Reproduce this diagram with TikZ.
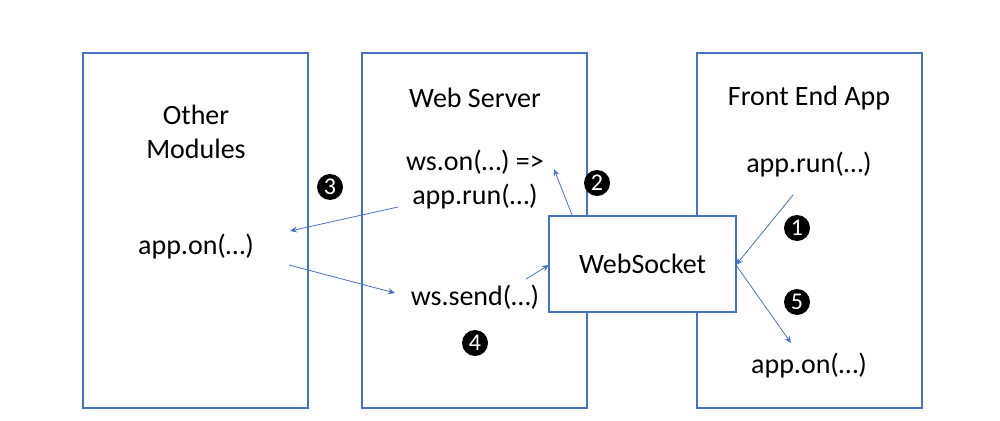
\documentclass[tikz,border=0pt]{standalone}
\usepackage{fontspec}
\setmainfont{Carlito}
\usetikzlibrary{arrows.meta}
\definecolor{bl}{HTML}{4472C4}
\begin{document}
\begin{tikzpicture}[x=1pt,y=-1pt,
  box/.style={draw=bl,line width=1.3pt,minimum width=#1,inner sep=0pt},
  lbl/.style={font=\fontsize{28}{34}\selectfont,align=center},
  num/.style={circle,fill=black,text=white,minimum size=26pt,inner sep=0pt,font=\fontsize{24}{24}\selectfont},
  arr/.style={draw=bl,line width=0.8pt,-{Stealth[length=7pt,width=6pt]}}]
\useasboundingbox (0,0) rectangle (1000,420);
\node[box=225pt,minimum height=355pt] (om) at (195.5,230.5) {};
\node[box=225pt,minimum height=355pt] (ws) at (474.5,230.5) {};
\node[box=225pt,minimum height=355pt] (fe) at (809.5,230.5) {};
\node[box=187pt,minimum height=96pt,fill=white,lbl] (sock) at (642.5,264) {WebSocket};
\node[lbl] (t1) at (196,132) {Other\\Modules};
\node[lbl] (t2) at (475,98) {Web Server};
\node[lbl] (t3) at (809,98) {Front End App};
\node[lbl] (a1) at (475,180) {ws.on(…) =>\\app.run(…)};
\node[lbl] (a2) at (196,247) {app.on(…)};
\node[lbl] (a3) at (475,297) {ws.send(…)};
\node[lbl] (a4) at (809,165) {app.run(…)};
\node[lbl] (a5) at (809,366) {app.on(…)};
\node[num] (n3) at (330,187) {3};
\node[num] (n2) at (597,183) {2};
\node[num] (n1) at (797,228) {1};
\node[num] (n5) at (797,302) {5};
\node[num] (n4) at (475,343) {4};
\coordinate (p1s) at (793,195);
\coordinate (sr) at (736,265);
\coordinate (p5e) at (791,343);
\coordinate (p2s) at (572,215);
\coordinate (p2e) at (554,169);
\coordinate (p3s) at (398,207);
\coordinate (p3e) at (290,231);
\coordinate (p4s) at (289,265);
\coordinate (p4e) at (395,293);
\coordinate (p6s) at (526,279);
\coordinate (p6e) at (549,265);
\draw[arr] (p1s) -- (sr);
\draw[arr] (sr) -- (p5e);
\draw[arr] (p2s) -- (p2e);
\draw[arr] (p3s) -- (p3e);
\draw[arr] (p4s) -- (p4e);
\draw[arr] (p6s) -- (p6e);
\end{tikzpicture}
\end{document}
